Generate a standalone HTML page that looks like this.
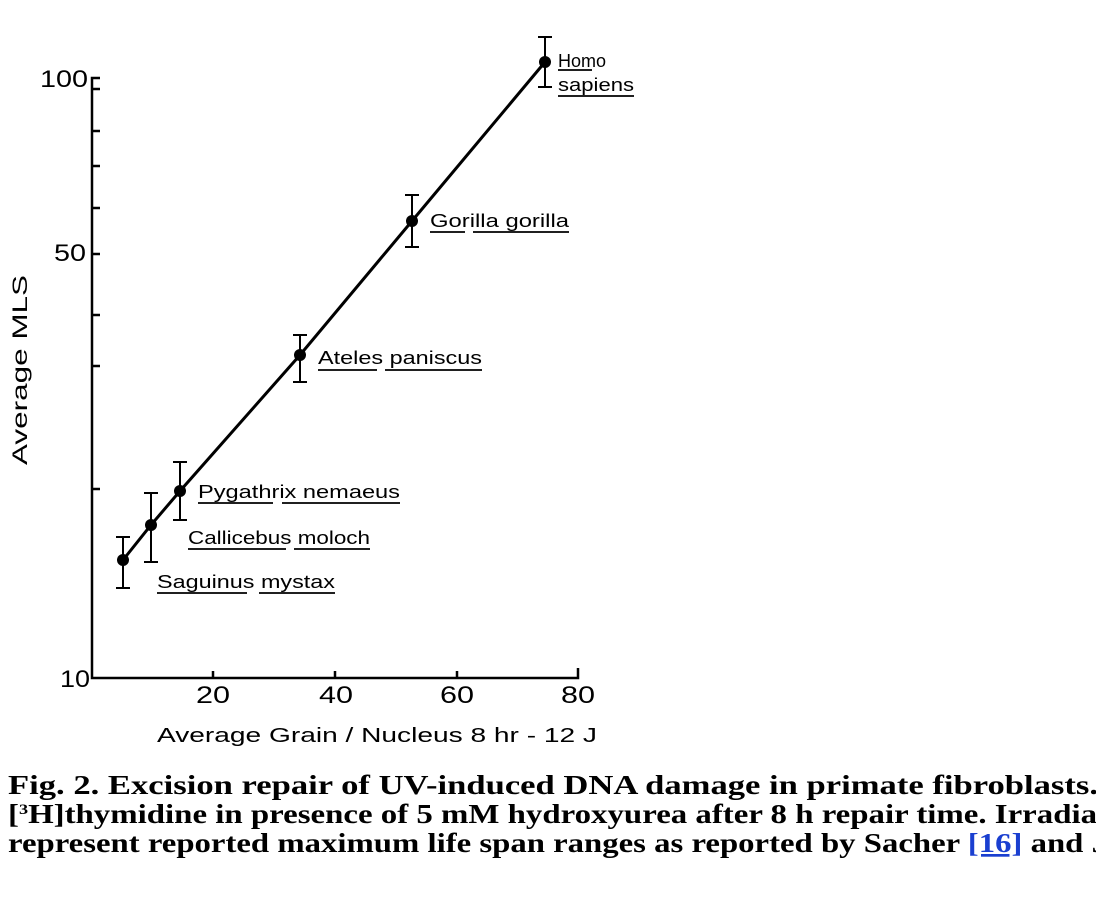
<!DOCTYPE html>
<html><head><style>body{margin:0;background:#fff}svg{display:block}</style></head>
<body>
<svg width="1096" height="898" viewBox="0 0 1096 898" xmlns="http://www.w3.org/2000/svg">
<g stroke="#000" stroke-width="2.5" fill="none">
<path d="M100 78 H92 V678 H578 V668"/>
<path d="M92 89h8M92 131h8M92 166h8M92 208h8M92 254h8M92 315h8M92 366h8M92 489h8"/>
<path d="M213 678v-7M335 678v-7M457 678v-7"/>
<path d="M123 560 L151 525 L180 491 L300 355 L412 221 L545 62" stroke-width="3"/>
<g stroke-width="2">
<path d="M123 537V588M116 537h14M116 588h14"/>
<path d="M151 493V562M144 493h14M144 562h14"/>
<path d="M180 462V520M173 462h14M173 520h14"/>
<path d="M300 335V382M293 335h14M293 382h14"/>
<path d="M412 195V247M405 195h14M405 247h14"/>
<path d="M545 37V87M538 37h14M538 87h14"/>
</g>
<g stroke-width="1.8">
<path d="M558 70h34M558 96h76"/>
<path d="M430 232h35M473 232h96"/>
<path d="M318 370h59M385 370h97"/>
<path d="M198 503h75M282 503h118"/>
<path d="M188 549h98M294 549h76"/>
<path d="M157 593h90M259 593h76"/>
</g>
</g>
<g fill="#000">
<circle cx="123" cy="560" r="6"/><circle cx="151" cy="525" r="6"/><circle cx="180" cy="491" r="6"/>
<circle cx="300" cy="355" r="6"/><circle cx="412" cy="221" r="6"/><circle cx="545" cy="62" r="6"/>
</g>
<g font-family="Liberation Sans, sans-serif" font-size="18" fill="#000">
<text x="558" y="67">Homo</text><text x="558" y="91" textLength="76" lengthAdjust="spacingAndGlyphs">sapiens</text>
<text x="430" y="227" textLength="139" lengthAdjust="spacingAndGlyphs">Gorilla  gorilla</text>
<text x="318" y="364" textLength="164" lengthAdjust="spacingAndGlyphs">Ateles  paniscus</text>
<text x="198" y="498" textLength="202" lengthAdjust="spacingAndGlyphs">Pygathrix  nemaeus</text>
<text x="188" y="544" textLength="182" lengthAdjust="spacingAndGlyphs">Callicebus  moloch</text>
<text x="157" y="588" textLength="178" lengthAdjust="spacingAndGlyphs">Saguinus  mystax</text>
</g>
<g font-family="Liberation Sans, sans-serif" font-size="24" fill="#000">
<text x="40" y="87" textLength="48" lengthAdjust="spacingAndGlyphs">100</text>
<text x="54" y="261" textLength="32" lengthAdjust="spacingAndGlyphs">50</text>
<text x="60" y="687" textLength="30" lengthAdjust="spacingAndGlyphs">10</text>
<text x="196" y="703" textLength="34" lengthAdjust="spacingAndGlyphs">20</text>
<text x="319" y="703" textLength="34" lengthAdjust="spacingAndGlyphs">40</text>
<text x="440" y="703" textLength="34" lengthAdjust="spacingAndGlyphs">60</text>
<text x="561" y="703" textLength="34" lengthAdjust="spacingAndGlyphs">80</text>
</g>
<text x="157" y="742" font-family="Liberation Sans, sans-serif" font-size="20" textLength="440" lengthAdjust="spacingAndGlyphs">Average Grain / Nucleus  8 hr - 12 J</text>
<text transform="translate(27,465) rotate(-90)" font-family="Liberation Sans, sans-serif" font-size="21" textLength="190" lengthAdjust="spacingAndGlyphs">Average  MLS</text>
<g font-family="Liberation Serif, serif" font-weight="bold" font-size="27" fill="#000">
<text x="8" y="794" textLength="1090" lengthAdjust="spacingAndGlyphs">Fig. 2. Excision repair of UV-induced DNA damage in primate fibroblasts.</text>
<text x="8" y="823" textLength="1100" lengthAdjust="spacingAndGlyphs">[<tspan font-size="15" dy="-9">3</tspan><tspan dy="9">H]thymidine in presence of 5 mM hydroxyurea after 8 h repair time. Irradiat</tspan></text>
<text x="8" y="852" textLength="1100" lengthAdjust="spacingAndGlyphs">represent reported maximum life span ranges as reported by Sacher <tspan fill="#1a3fd0" text-decoration="underline">[16]</tspan> and J</text>
</g>
</svg>
</body></html>
